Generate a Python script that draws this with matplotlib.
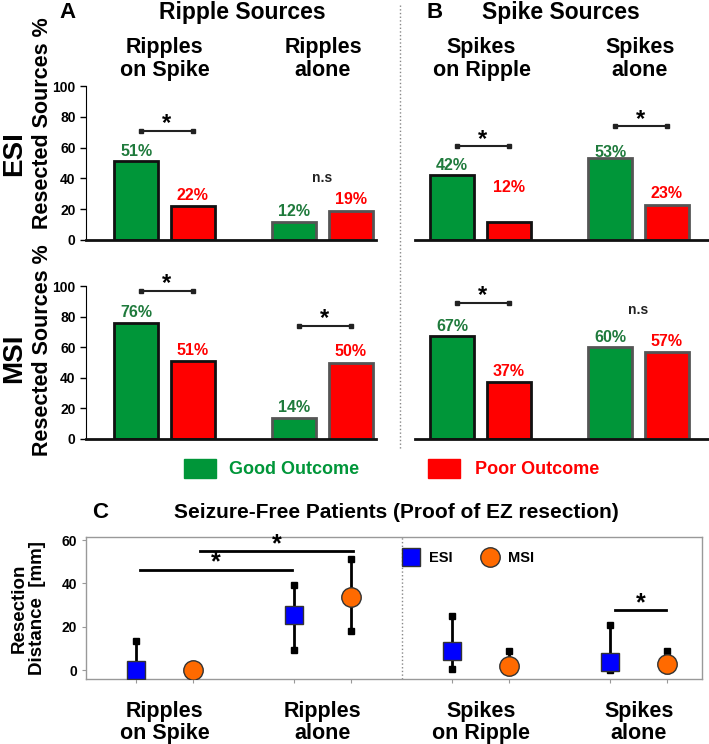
import numpy as np
import matplotlib
matplotlib.use('Agg')
import matplotlib.pyplot as plt
from matplotlib.lines import Line2D
from matplotlib.patches import Rectangle

plt.rcParams['font.family'] = ['Liberation Sans', 'DejaVu Sans']
plt.rcParams['font.weight'] = 'bold'

# ---- data ----
groups = ['Ripples\non Spike', 'Ripples\nalone', 'Spikes\non Ripple', 'Spikes\nalone']

esi_good = [51, 12, 42, 53]
esi_poor = [22, 19, 12, 23]
msi_good = [76, 14, 67, 60]
msi_poor = [51, 50, 37, 57]
esi_sig = ['*', 'n.s', '*', '*']
msi_sig = ['*', '*', '*', 'n.s']

# panel C: seizure-free patients, resection distance (mm)
esi_dist = [0, 25.5, 8.7, 3.8]
esi_hi = [13.2, 39.4, 24.8, 20.6]
esi_lo = [0, 9.2, 0.3, 0]
msi_dist = [0, 33.5, 1.8, 3.0]
msi_hi = [0, 51.2, 8.7, 8.7]
msi_lo = [0, 18.0, 1.8, 0]

# ---- layout helpers ----
esi_sig_y = [71, 40, 61, 74]
msi_sig_y = [97, 74, 89, 84]
esi_lab_y = [None, None, (None, 34), (57, None)]   # manual label overrides
msi_lab_y = [None, None, None, None]

GREEN = '#009639'
GREEN_TXT = '#1f7a3c'
RED = '#ff0000'
OFF = 0.18
W = 0.28

fig = plt.figure(figsize=(7.09, 7.44), dpi=100)


def fy(px):
    return 1 - px / 744.0


def fx(px):
    return px / 709.0


def star(ax, xv, yv, size=17):
    # asterisk sitting just above a significance line
    ax.annotate('*', xy=(xv, yv), xytext=(0, 5), textcoords='offset points',
                ha='center', va='center', fontsize=size, fontweight='bold',
                annotation_clip=False)


def bar_panel(ax, idx, good, poor, sig, sig_y, lab_y):
    edges = ['#111111', '#555555']
    for k, i in enumerate(idx):
        ax.bar(i - OFF, good[i], W, color=GREEN, edgecolor=edges[k], linewidth=2, zorder=2)
        ax.bar(i + OFF, poor[i], W, color=RED, edgecolor=edges[k], linewidth=2, zorder=2)
        gy, py = good[i] + 6.5, poor[i] + 7
        if lab_y[i] is not None:
            gy = lab_y[i][0] if lab_y[i][0] is not None else gy
            py = lab_y[i][1] if lab_y[i][1] is not None else py
        ax.text(i - OFF, gy, f'{good[i]}%', color=GREEN_TXT, ha='center', va='center',
                fontsize=11.5, fontweight='bold', clip_on=False)
        ax.text(i + OFF, py, f'{poor[i]}%', color=RED, ha='center', va='center',
                fontsize=11.5, fontweight='bold', clip_on=False)
        if sig[i] == '*':
            ax.plot([i - 0.15, i + 0.18], [sig_y[i], sig_y[i]], color='#222222', lw=1.5,
                    marker='s', markersize=3.5, clip_on=False)
            star(ax, i + 0.015, sig_y[i])
        else:
            ax.text(i, sig_y[i], 'n.s', ha='center', va='center', fontsize=10,
                    fontweight='bold', color='#222222', clip_on=False)
    ax.set_ylim(0, 100)
    ax.set_xticks([])
    for s in ['top', 'right']:
        ax.spines[s].set_visible(False)
    ax.spines['bottom'].set_linewidth(2)
    ax.spines['bottom'].set_color('#111111')


rows = [(esi_good, esi_poor, esi_sig, esi_sig_y, esi_lab_y, 86, 240),
        (msi_good, msi_poor, msi_sig, msi_sig_y, msi_lab_y, 286, 439)]
for good, poor, sig, sig_y, lab_y, top, bot in rows:
    axA = fig.add_axes([fx(86), fy(bot), fx(376) - fx(86), fy(top) - fy(bot)])
    bar_panel(axA, [0, 1], good, poor, sig, sig_y, lab_y)
    axA.set_xlim(-0.497, 1.339)
    axA.set_yticks(range(0, 101, 20))
    axA.tick_params(axis='y', labelsize=10, length=4, width=1)
    for t in axA.get_yticklabels():
        t.set_fontweight('bold')

    axB = fig.add_axes([fx(415), fy(bot), fx(709) - fx(415), fy(top) - fy(bot)])
    bar_panel(axB, [2, 3], good, poor, sig, sig_y, lab_y)
    axB.set_xlim(1.585, 3.446)
    axB.set_yticks([])
    axB.spines['left'].set_visible(False)

# group titles above top row
for i, g in enumerate(groups):
    xpx = 164.5 + 158.5 * i
    fig.text(fx(xpx), fy(59), g, ha='center', va='center', fontsize=15.5,
             fontweight='bold', linespacing=1.15)

fig.text(fx(68), fy(13), 'A', ha='center', va='center', fontsize=16, fontweight='bold')
fig.text(fx(242), fy(13), 'Ripple Sources', ha='center', va='center', fontsize=16.5, fontweight='bold')
fig.text(fx(435), fy(13), 'B', ha='center', va='center', fontsize=16, fontweight='bold')
fig.text(fx(561), fy(13), 'Spike Sources', ha='center', va='center', fontsize=16.5, fontweight='bold')

fig.text(fx(14), fy(154), 'ESI', rotation=90, ha='center', va='center', fontsize=20, fontweight='bold')
fig.text(fx(14), fy(358), 'MSI', rotation=90, ha='center', va='center', fontsize=20, fontweight='bold')
fig.text(fx(43), fy(123), 'Resected Sources %', rotation=90, ha='center', va='center',
         fontsize=15.5, fontweight='bold')
fig.text(fx(43), fy(350), 'Resected Sources %', rotation=90, ha='center', va='center',
         fontsize=15.5, fontweight='bold')

fig.add_artist(Line2D([fx(400), fx(400)], [fy(5), fy(450)], color='#888888', lw=1, ls=':'))

# legend for bars
fig.add_artist(Rectangle((fx(184), fy(478)), fx(216) - fx(184), fy(459) - fy(478),
                         transform=fig.transFigure, color=GREEN))
fig.text(fx(229), fy(469), 'Good Outcome', color=GREEN, ha='left', va='center',
         fontsize=13, fontweight='bold')
fig.add_artist(Rectangle((fx(428), fy(478)), fx(460) - fx(428), fy(459) - fy(478),
                         transform=fig.transFigure, color=RED))
fig.text(fx(475), fy(469), 'Poor Outcome', color=RED, ha='left', va='center',
         fontsize=13, fontweight='bold')

# ---- panel C ----
fig.text(fx(100), fy(513), 'C', ha='center', va='center', fontsize=16, fontweight='bold')
fig.text(fx(396), fy(513), 'Seizure-Free Patients (Proof of EZ resection)', ha='center',
         va='center', fontsize=15, fontweight='bold')

axC = fig.add_axes([fx(86), fy(679), fx(702) - fx(86), fy(537) - fy(679)])
x = np.arange(len(groups))
for xs, m, hi, lo, mk, col, ms in [(x - OFF, esi_dist, esi_hi, esi_lo, 's', '#0000ff', 13),
                                  (x + OFF, msi_dist, msi_hi, msi_lo, 'o', '#ff6a00', 14)]:
    for xi, mi, h, l in zip(xs, m, hi, lo):
        if h > mi:
            axC.plot([xi, xi], [mi, h], color='black', lw=2, zorder=2)
            axC.plot(xi, h, 's', color='black', markersize=5, zorder=2)
        if l < mi:
            axC.plot([xi, xi], [l, mi], color='black', lw=2, zorder=2)
            axC.plot(xi, l, 's', color='black', markersize=5, zorder=2)
    axC.plot(xs, m, mk, color=col, markeredgecolor='#333333', markeredgewidth=1,
             markersize=ms, linestyle='none', zorder=3,
             label='ESI' if mk == 's' else 'MSI')

for x1, x2, yv in [(-0.155, 0.807, 46.3), (0.225, 1.19, 55.0), (2.85, 3.17, 27.5)]:
    axC.plot([x1, x2], [yv, yv], color='black', lw=2, zorder=2, clip_on=False)
    star(axC, (x1 + x2) / 2, yv, size=18)

axC.axvline(1.5, color='#888888', lw=1, ls=':')
axC.set_xlim(-0.497, 3.40)
axC.set_ylim(-4.15, 61.4)
axC.set_yticks([0, 20, 40, 60])
axC.set_xticks(np.concatenate([x - OFF, x + OFF]))
axC.set_xticklabels([])
axC.tick_params(axis='x', length=3, color='#999999')
axC.tick_params(axis='y', length=3, color='#999999', labelsize=10)
for t in axC.get_yticklabels():
    t.set_fontweight('bold')
for s in axC.spines.values():
    s.set_color('#999999')
    s.set_linewidth(1)
for i, g in enumerate(groups):
    axC.annotate(g, xy=(i, fy(722.5)), xycoords=('data', 'figure fraction'),
                 ha='center', va='center', fontsize=15.5, fontweight='bold',
                 linespacing=1.1, annotation_clip=False)

fig.text(fx(28), fy(608), 'Resection\nDistance  [mm]', rotation=90, ha='center', va='center',
         fontsize=13.5, fontweight='bold', linespacing=1.1)

axC.legend(loc='center left', bbox_to_anchor=(0.49, 0.85), ncol=2, frameon=False,
           handletextpad=0.5, columnspacing=1.9, prop={'weight': 'bold', 'size': 10.5},
           markerscale=1.0, handlelength=1.4)

fig.savefig('out.png', dpi=100)
